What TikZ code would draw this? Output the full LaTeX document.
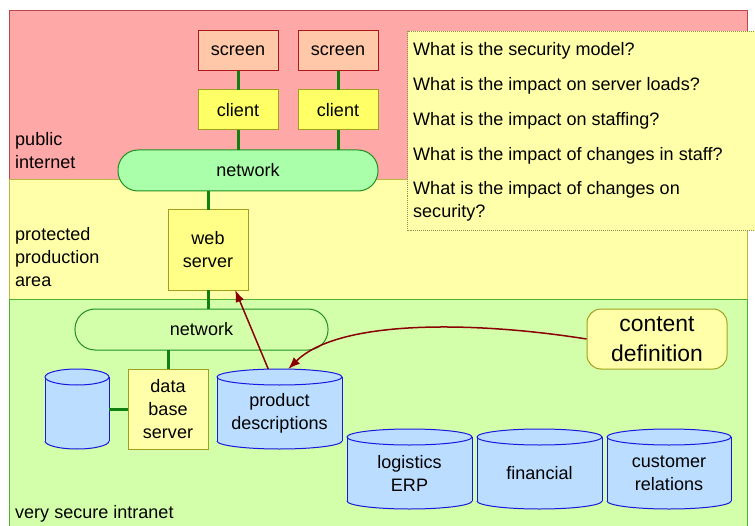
\documentclass[tikz,border=0pt]{standalone}
\usepackage{fontspec}
\setmainfont{Liberation Sans}
\usetikzlibrary{arrows.meta,calc}
\definecolor{pubfill}{HTML}{FFA8A8}
\definecolor{pubdraw}{HTML}{B84848}
\definecolor{protfill}{HTML}{FFFFAA}
\definecolor{protdraw}{HTML}{B8B840}
\definecolor{intfill}{HTML}{D4FFAA}
\definecolor{intdraw}{HTML}{50B030}
\definecolor{scrfill}{HTML}{FFC8A8}
\definecolor{scrdraw}{HTML}{B01818}
\definecolor{clifill}{HTML}{FFFF66}
\definecolor{olivedraw}{HTML}{A0A020}
\definecolor{wsfill}{HTML}{FFFF88}
\definecolor{dbfill}{HTML}{FFFFAA}
\definecolor{netfill}{HTML}{AAFFAA}
\definecolor{netdraw}{HTML}{209020}
\definecolor{cylfill}{HTML}{BBDDFF}
\definecolor{cyldraw}{HTML}{1818E0}
\definecolor{linkc}{HTML}{108010}
\definecolor{arrc}{HTML}{8B0000}
\definecolor{qdraw}{HTML}{909050}
\newcommand\dbcyl[6]{%
  \fill[cylfill] (#2,#3+8) rectangle (#4,#5-8);
  \fill[cylfill] ({(#2+#4)/2},#5-8) ellipse [x radius={(#4-#2)/2}, y radius=8];
  \draw[cylline] (#2,#3+8) -- (#2,#5-8) (#4,#3+8) -- (#4,#5-8);
  \begin{scope}
    \clip (#2-3,#5-8) rectangle (#4+3,#5+3);
    \draw[cylline] ({(#2+#4)/2},#5-8) ellipse [x radius={(#4-#2)/2}, y radius=8];
  \end{scope}
  \filldraw[cylline, fill=cylfill] ({(#2+#4)/2},#3+8) ellipse [x radius={(#4-#2)/2}, y radius=8];
  \node[cylbox, minimum width={(#4-#2)*1bp}, minimum height={(#5-#3)*1bp}] (#1) at ({(#2+#4)/2},{(#3+#5)/2}) {};
  \node[cyltext] (#1t) at ({(#2+#4)/2},{(#3+#5)/2+4}) {#6};
}
\begin{document}
\begin{tikzpicture}[x=1bp,y=-1bp,
  every node/.append style={font=\fontsize{18.1}{23.1}\selectfont},
  region/.style={draw, line width=1bp, anchor=north west, inner sep=0pt, outer sep=0pt},
  box/.style={draw, line width=1bp, minimum width=80bp, inner sep=0pt, outer sep=0pt, align=center},
  scrbox/.style={box, fill=scrfill, draw=scrdraw, minimum height=40bp},
  clibox/.style={box, fill=clifill, draw=olivedraw, minimum height=40bp},
  srvbox/.style={box, draw=olivedraw, minimum height=80bp},
  netbox/.style={draw=netdraw, line width=1bp, rounded corners=20bp, minimum height=41bp, inner sep=0pt, outer sep=0pt},
  cylline/.style={draw=cyldraw, line width=1bp},
  cylbox/.style={inner sep=0pt, outer sep=0pt},
  cyltext/.style={align=center, inner sep=0pt},
  lbl/.style={align=left, inner sep=0pt},
  link/.style={draw=linkc, line width=3bp},
  arr/.style={draw=arrc, line width=1.5bp, -{Latex[length=12bp,width=9bp]}},
]
\useasboundingbox (0,0) rectangle (755,526);
% regions
\node[region, fill=pubfill, draw=pubdraw, minimum width=738bp, minimum height=169bp] (pub) at (9,11) {};
\node[region, fill=protfill, draw=protdraw, minimum width=738bp, minimum height=119bp] (prot) at (9,180) {};
\node[region, fill=intfill, draw=intdraw, minimum width=738bp, minimum height=229bp] (intra) at (9,299) {};
% region labels
\node[lbl, anchor=north west] (publbl) at (15,132) {public\\internet};
\node[lbl, anchor=north west] (protlbl) at (15,227) {protected\\production\\area};
\node[lbl, anchor=base west] (intlbl) at (15,518) {very secure intranet};
% questions
\node[draw=qdraw, densely dotted, line width=1bp, fill=protfill, anchor=north west, minimum width=352bp, minimum height=199bp, inner sep=0pt] (qbox) at (407,31) {};
\node[lbl, anchor=north west] (qtext) at (413,42) {What is the security model?\\[11.9bp]
What is the impact on server loads?\\[11.9bp]
What is the impact on staffing?\\[11.9bp]
What is the impact of changes in staff?\\[11.9bp]
What is the impact of changes on\\security?};
% top part
\node[scrbox] (scr1) at (238,51) {screen};
\node[scrbox] (scr2) at (338,51) {screen};
\node[clibox] (cli1) at (238,110) {client};
\node[clibox] (cli2) at (338,110) {client};
\node[netbox, fill=netfill, minimum width=260bp] (net1) at (248,170.5) {network};
\node[srvbox, fill=wsfill] (ws) at (208,250) {web\\server};
\node[netbox, minimum width=253bp] (net2) at (201.5,329.5) {network};
\node[srvbox, fill=dbfill] (dbs) at (168,409) {data\\base\\server};
% cylinders
\dbcyl{db0}{45}{369}{109}{449}{}
\dbcyl{pd}{217}{369}{342}{449}{product\\descriptions}
\dbcyl{erp}{347}{429}{472}{509}{logistics\\ERP}
\dbcyl{fin}{477}{429}{602}{509}{financial}
\dbcyl{crm}{607}{429}{731}{509}{customer\\relations}
% content definition
\node[draw=olivedraw, fill=protfill, line width=1bp, rounded corners=14bp, minimum width=140bp, minimum height=60bp, inner sep=0pt, align=center, font=\fontsize{23}{30}\selectfont] (cdef) at (657,339) {content\\definition};
% links
\draw[link] (scr1) -- (cli1);
\draw[link] (scr2) -- (cli2);
\draw[link] (cli1.south) -- (cli1.south |- net1.north);
\draw[link] (cli2.south) -- (cli2.south |- net1.north);
\draw[link] (ws.north) -- (ws.north |- net1.south);
\draw[link] (ws.south) -- (ws.south |- net2.north);
\draw[link] (dbs.north) -- (dbs.north |- net2.south);
\draw[link] (db0.east) -- (dbs.west);
% arrows
\draw[arr] ($(pd.north west)!0.41!(pd.north east)$) -- ($(ws.south west)!0.84!(ws.south east)$);
\draw[arr] (cdef.west) .. controls (480,322) and (340,318) .. ($(pd.north west)!0.57!(pd.north east)$);
\end{tikzpicture}
\end{document}
